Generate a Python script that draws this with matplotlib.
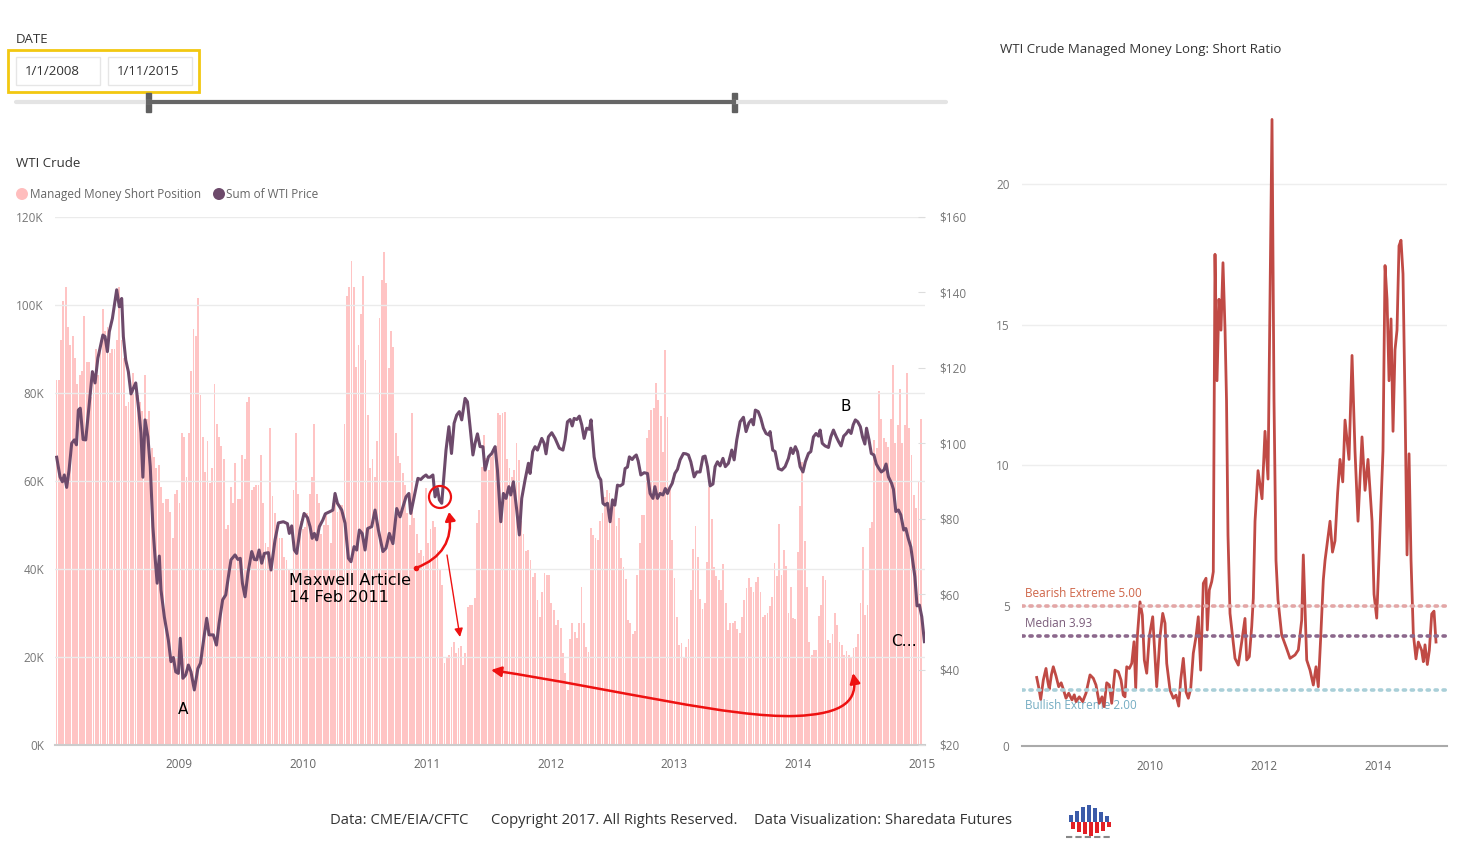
import numpy as np
import matplotlib
matplotlib.use("Agg")
import matplotlib.pyplot as plt
from matplotlib.patches import Rectangle, Circle, FancyArrowPatch
from matplotlib.path import Path

plt.rcParams['font.family'] = ['Open Sans', 'DejaVu Sans']

# weekly managed money short position (thousands), 2008-01 .. 2014-12
short_2008 = [83, 83, 92, 101, 104, 95, 91, 93, 88, 82, 84, 85, 97.5, 87, 87, 79, 84, 90, 84, 92,
              99, 94, 95, 89, 90, 90, 92, 104, 92, 88, 77, 78, 80, 84.5, 81, 79.5, 78, 76, 84, 74,
              76, 67.5, 65.5, 63, 63.6, 58.7, 55, 56, 56, 53, 47, 57, 58]
short_2009 = [55, 71, 70, 61, 71, 85, 94.5, 93, 101.5, 79.5, 70, 62, 69, 59.5, 63, 82, 73, 70, 68, 65,
              49, 50, 58.6, 55, 64, 56, 56, 66, 65, 78, 79, 58, 58.7, 59, 59, 66, 55, 46, 45, 72,
              56.6, 52.7, 50, 47, 47, 42.7, 42, 40, 39, 58]
short_2010 = [71, 57, 51, 49, 49.6, 52.7, 57, 61, 73, 57, 55, 48, 50, 52.7, 50, 46, 55, 55, 53, 54.5,
              54.5, 73, 102, 104, 110, 104, 86, 91, 98, 106.6, 87.5, 75, 63, 65, 61, 69, 97, 105.7,
              112, 105, 85.7, 94, 90.5, 71, 65.7, 64, 61.8, 59, 52.7, 50, 75.5, 51.6, 48, 43.6,
              44.3, 43, 58.4, 46, 49, 51, 49.6, 44.3, 39.8, 36.4, 18.6, 20, 20.4, 22.3, 23.4, 20.9,
              22, 22.5, 18.2, 21, 31.4, 31.8, 31.8, 33.4, 50.5, 53.4, 63.2, 70.4, 65.2, 62.5, 65.5,
              66.3, 68, 75.4, 75, 75.5, 75.7, 65, 63, 61, 62.5, 68.6, 64.8, 51, 48, 44]
short_2012 = [44.3, 42, 38.2, 39, 33, 29, 34.8, 39, 38.6, 38.6, 32.2, 30.7, 27.3, 28.4, 26.6, 21, 16.3,
              12.5, 24, 27.7, 25.7, 24.3, 27.7, 35.9, 27.7, 22.3, 21.1, 49.3, 47.7, 47, 46.7, 51,
              52.7, 56.4, 58, 57.2, 55.7, 55, 49.8, 51.6, 42.5, 40.5, 37.8, 28.4, 27.7, 25.2, 26,
              38.6, 45.8, 52.2, 52.2, 69.8, 71.6, 76.1, 76.5, 82.2, 78.4, 74.8, 66.6, 89.8, 74.5,
              58.6, 46.6, 38, 29, 22.7, 23.1, 19.8, 22.3, 24, 35.2, 44.5, 49.8, 42.8, 33.2, 30.9,
              32.3, 41.6, 58.6, 51.4, 40.5, 38.4, 37.5, 35.2, 41.1, 32.3, 26.1, 27.7, 27.7, 28.2,
              26.3, 25.4, 29, 33, 35.7, 38, 36, 34.8, 37, 38.2, 34.8, 29, 29.5, 30]
short_2014 = [31.6, 33.6, 41.4, 38.4, 50.2, 38.6, 44.3, 40.7, 30, 36, 28.9, 28.6, 43.9, 54.3, 64.3,
              46.4, 35.9, 23.4, 20.5, 21.6, 21.6, 29.3, 31.8, 38.4, 37.5, 23.9, 23.2, 25.2, 30, 27.3,
              23.4, 22.7, 20.5, 21.4, 20.5, 19.8, 22, 22.3, 25.2, 32.3, 45, 29.5, 31.8, 49.3, 50.7,
              69.3, 67.5, 80.5, 74, 69.8, 68.9, 67.8, 74, 86.4, 68.6, 72.7, 80.9, 68.6, 72.7, 84.5,
              72, 65.9, 56.8, 53.9, 59.8, 74]

# WTI price: (week since 2008-01-01, $)
price_points = [
    (0.6, 96.3), (2.0, 91.1), (3.0, 89.8), (3.8, 91.6), (4.8, 88.3), (5.8, 92.9), (6.9, 100),
    (8.0, 100.9), (8.9, 99.6), (9.7, 108.8), (10.5, 109.3), (11.7, 101), (12.8, 100.9), (13.9, 108),
    (15.6, 119), (16.7, 116), (17.9, 122.6), (20.0, 128.7), (20.9, 128.3), (21.9, 124.3),
    (22.7, 129.6), (24.0, 133.1), (25.8, 140.7), (26.9, 136.2), (27.9, 138.4), (28.6, 128.3),
    (29.6, 122.1), (30.7, 119), (31.8, 113.1), (32.8, 114.6), (33.8, 116), (35.2, 108),
    (36.0, 102.7), (36.8, 91), (37.7, 106.2), (38.9, 101.7), (39.9, 93.8), (41.0, 77.9),
    (41.9, 69.9), (42.8, 62.9), (43.7, 70.1), (44.4, 61.1), (45.8, 54), (47.5, 47.8), (48.6, 42.1),
    (49.6, 43.2), (50.6, 39.4), (51.7, 39), (52.5, 48.3), (53.6, 37.7), (54.8, 38.6), (55.9, 41.2),
    (57.0, 39.4), (58.4, 34.6), (59.9, 40.3), (61.0, 41.7), (62.4, 48.3), (63.6, 53.6), (64.6, 49.2),
    (66.4, 49.2), (67.7, 46.5), (68.8, 52.3), (70.3, 58.5), (71.6, 59.8), (72.7, 64.6), (73.8, 69.1),
    (75.5, 70.4), (76.7, 69.2), (77.7, 69.5), (78.6, 62.9), (79.7, 59.3), (80.9, 65.5), (82.5, 71.3),
    (83.6, 69.2), (84.6, 69.1), (85.6, 71.7), (86.7, 68.2), (87.8, 70.8), (89.5, 71), (90.6, 66.4),
    (92.3, 74.4), (93.7, 78.9), (95.8, 79.2), (97.5, 78.7), (98.3, 76.1), (99.3, 78.1),
    (100.4, 71.7), (101.4, 70.8), (102.8, 77), (104.5, 81.4), (105.9, 80.3), (107.0, 77.9),
    (107.9, 74.8), (108.8, 76.1), (109.8, 74.4), (110.9, 77.9), (112.4, 79.7), (113.4, 81.3),
    (115.4, 81.9), (116.6, 82.3), (117.5, 86.7), (118.5, 84.1), (120.3, 82.3), (121.7, 78.8),
    (123.1, 69.5), (124.2, 68.6), (125.5, 72.6), (126.6, 71.7), (127.7, 77), (128.9, 76.1),
    (130.1, 71.7), (131.2, 77.4), (132.9, 77.9), (134.3, 82.3), (135.7, 77), (137.6, 71.3),
    (138.9, 72.2), (140.3, 76.1), (141.8, 73.4), (143.4, 82.7), (144.8, 80.5), (146.0, 83.1),
    (147.3, 85.8), (148.5, 86.7), (149.3, 81.4), (150.7, 85.8), (152.3, 90.7), (153.5, 90.4),
    (154.6, 91.1), (155.7, 91.6), (156.5, 91), (157.4, 91), (158.6, 91.6), (159.5, 85.8),
    (160.5, 88), (161.3, 85), (162.3, 84.1), (163.3, 92), (164.1, 98.2), (165.3, 104.4),
    (166.4, 97.3), (167.5, 105.3), (168.6, 107.5), (169.7, 108.4), (170.7, 106.2), (172.1, 111.9),
    (173.1, 111), (174.2, 104.4), (175.4, 96.9), (176.3, 100), (177.3, 102.5), (178.4, 99.1),
    (179.6, 99.1), (180.5, 92.9), (181.9, 96.4), (183.3, 97.3), (184.7, 99.1), (185.7, 92.9),
    (187.1, 79.2), (188.2, 86.7), (189.3, 85.4), (190.5, 88.5), (191.3, 86.3), (192.4, 89.8),
    (193.8, 82.3), (194.9, 75.7), (195.9, 85.4), (197.3, 90.3), (198.7, 94.7), (199.4, 92),
    (200.5, 97.8), (201.5, 99.1), (202.5, 98.2), (204.3, 101.3), (205.3, 100), (206.1, 97.2),
    (207.1, 101.7), (208.5, 102.8), (209.9, 101.3), (211.7, 98.7), (213.2, 98.2), (214.1, 100.9),
    (215.1, 105.7), (216.2, 106.3), (217.1, 104.6), (217.9, 106.6), (219.0, 106.3), (220.1, 107.2),
    (221.1, 104.9), (222.1, 101.3), (223.2, 104), (224.3, 103.7), (225.0, 106.2), (226.3, 96.4),
    (227.4, 92.9), (228.3, 91.1), (229.1, 90.3), (230.0, 84.1), (230.9, 83.6), (231.9, 84.1),
    (233.0, 79.2), (234.0, 85), (235.0, 83.6), (236.1, 88.9), (237.2, 88.7), (238.4, 89.2),
    (239.3, 93.3), (240.3, 93.7), (241.1, 96.4), (242.3, 95.7), (243.1, 96.4), (244.0, 96.9),
    (244.8, 95.3), (245.9, 91.6), (247.3, 92.2), (248.7, 92), (249.8, 86.7), (251.0, 85.4),
    (251.8, 88.5), (252.9, 85.4), (254.0, 86.7), (255.2, 86.3), (256.2, 88), (257.1, 86.7),
    (257.9, 88), (259.1, 89.4), (260.2, 92), (261.3, 93.1), (262.4, 95.6), (263.8, 97.3),
    (264.9, 97.2), (265.9, 96.9), (266.9, 95.1), (268.3, 91.1), (269.4, 92.4), (270.8, 92.4),
    (272.0, 96.4), (272.9, 96.6), (273.9, 93.8), (275.0, 88.7), (276.2, 89.2), (277.1, 93.8),
    (278.1, 95.1), (279.2, 94), (280.4, 96), (281.4, 93.8), (282.7, 94.7), (284.1, 98.2),
    (285.1, 95.6), (286.2, 100.9), (287.6, 105.7), (289.0, 106.9), (290.1, 103.1), (291.3, 105.4),
    (292.4, 106.3), (293.2, 104.9), (294.0, 108.8), (295.2, 108.4), (296.3, 106.6), (297.4, 104),
    (298.5, 102.6), (299.7, 102.2), (300.2, 103.1), (301.3, 98.2), (302.3, 97.8), (303.7, 93.3),
    (305.1, 92.9), (306.5, 93.8), (307.9, 96), (308.9, 98.7), (309.8, 97.3), (310.8, 99.1),
    (311.7, 97.8), (312.8, 93.8), (314.0, 92.4), (315.0, 95.1), (316.3, 97.3), (317.3, 97.8),
    (318.4, 101.7), (319.5, 102.6), (320.5, 101.9), (321.2, 103.5), (322.1, 100), (323.3, 99.3),
    (324.7, 98.9), (325.7, 101.7), (326.8, 103.5), (328.0, 101.7), (329.0, 100.4), (330.0, 99.3),
    (331.1, 101.9), (332.2, 102.6), (333.2, 103.5), (334.2, 102.6), (335.1, 104.9), (336.0, 106.2),
    (337.0, 105.7), (338.1, 104.4), (339.0, 101.7), (340.0, 99.8), (340.7, 104), (341.7, 101),
    (342.7, 97.3), (343.8, 96.9), (344.8, 94.5), (345.9, 93.3), (346.9, 92.4), (348.0, 92.9),
    (348.9, 94.5), (349.9, 91.1), (351.2, 89.4), (352.0, 87.8), (353.0, 81.9), (354.1, 82.3),
    (355.1, 81), (356.3, 77), (357.2, 77.4), (358.2, 74.8), (359.3, 72.5), (360.2, 68.2),
    (361.0, 64.6), (361.9, 56.9), (362.9, 57.1), (363.9, 54), (365.0, 47.4)]

# managed money long:short ratio: (decimal year, ratio)
ratio_points = [
    (2008.021, 2.44), (2008.060, 2.05), (2008.091, 1.66), (2008.137, 2.35), (2008.184, 2.76),
    (2008.215, 2.30), (2008.242, 2.02), (2008.280, 2.55), (2008.312, 2.82), (2008.360, 2.49),
    (2008.407, 2.11), (2008.450, 2.25), (2008.488, 2.02), (2008.535, 1.70), (2008.582, 1.88),
    (2008.640, 1.64), (2008.680, 1.82), (2008.711, 1.58), (2008.768, 1.75), (2008.828, 1.58),
    (2008.886, 1.88), (2008.920, 2.20), (2008.956, 2.53), (2009.014, 2.41), (2009.061, 2.17),
    (2009.119, 1.52), (2009.167, 1.75), (2009.202, 1.40), (2009.249, 2.25), (2009.295, 2.17),
    (2009.337, 1.52), (2009.395, 2.70), (2009.453, 2.64), (2009.500, 2.35), (2009.540, 1.81),
    (2009.570, 1.75), (2009.600, 2.82), (2009.646, 2.76), (2009.688, 2.94), (2009.728, 3.71),
    (2009.758, 2.05), (2009.786, 3.89), (2009.833, 5.13), (2009.874, 4.66), (2009.909, 3.06),
    (2009.951, 2.59), (2009.996, 3.89), (2010.056, 4.60), (2010.096, 3.18), (2010.126, 2.11),
    (2010.184, 3.89), (2010.232, 4.72), (2010.272, 4.37), (2010.302, 2.94), (2010.360, 1.99),
    (2010.418, 1.70), (2010.465, 1.81), (2010.512, 1.42), (2010.547, 2.35), (2010.593, 3.12),
    (2010.640, 1.93), (2010.681, 1.70), (2010.723, 2.05), (2010.768, 3.30), (2010.816, 3.89),
    (2010.856, 4.60), (2010.898, 2.70), (2010.944, 5.79), (2010.991, 5.97), (2011.014, 4.13),
    (2011.049, 5.55), (2011.091, 5.85), (2011.119, 6.20), (2011.149, 17.5), (2011.184, 13.0),
    (2011.219, 15.9), (2011.254, 14.8), (2011.289, 17.2), (2011.325, 14.8), (2011.351, 12.3),
    (2011.377, 7.5), (2011.412, 4.72), (2011.500, 3.12), (2011.558, 2.88), (2011.618, 3.71),
    (2011.675, 4.54), (2011.705, 3.06), (2011.751, 3.18), (2011.793, 4.25), (2011.821, 5.26),
    (2011.851, 8.0), (2011.904, 9.8), (2011.974, 8.8), (2012.026, 11.2), (2012.079, 9.5),
    (2012.114, 15.9), (2012.149, 22.3), (2012.184, 12.3), (2012.219, 6.6), (2012.254, 5.2),
    (2012.319, 3.95), (2012.400, 3.50), (2012.465, 3.12), (2012.553, 3.24), (2012.611, 3.42),
    (2012.670, 4.48), (2012.698, 6.8), (2012.758, 3.06), (2012.816, 2.70), (2012.874, 2.17),
    (2012.921, 2.82), (2012.961, 2.11), (2013.004, 3.89), (2013.049, 5.91), (2013.079, 6.6),
    (2013.167, 8.0), (2013.210, 6.9), (2013.254, 7.3), (2013.300, 9.0), (2013.342, 10.2),
    (2013.390, 9.4), (2013.430, 11.6), (2013.500, 10.2), (2013.553, 13.9), (2013.605, 10.5),
    (2013.658, 8.0), (2013.728, 11.0), (2013.781, 9.1), (2013.833, 10.2), (2013.904, 8.0),
    (2013.939, 5.4), (2013.986, 4.55), (2014.044, 7.7), (2014.096, 10.5), (2014.132, 17.1),
    (2014.167, 15.9), (2014.202, 13.0), (2014.237, 15.2), (2014.272, 11.2), (2014.307, 14.1),
    (2014.342, 14.8), (2014.377, 17.8), (2014.412, 18.0), (2014.447, 16.8), (2014.482, 12.3),
    (2014.518, 6.8), (2014.553, 10.4), (2014.588, 6.6), (2014.628, 4.0), (2014.675, 3.1),
    (2014.716, 3.7), (2014.775, 3.4), (2014.804, 3.0), (2014.833, 3.6), (2014.874, 2.9),
    (2014.909, 3.4), (2014.951, 4.7), (2014.991, 4.8), (2015.026, 3.7)]

ref_names = ["Bearish Extreme", "Median", "Bullish Extreme"]
ref_values = [5.00, 3.93, 2.00]
ref_colors = ["#E3A6A6", "#8C688C", "#A9CFD8"]
ref_text_colors = ["#CF6548", "#7A5C7A", "#74ACC2"]
ref_label_above = [True, True, False]

left_ticks = [0, 20, 40, 60, 80, 100, 120]
price_ticks = [20, 40, 60, 80, 100, 120, 140, 160]
year_ticks = [2009, 2010, 2011, 2012, 2013, 2014, 2015]
ratio_ticks = [0, 5, 10, 15, 20]
ratio_year_ticks = [2010, 2012, 2014]

logo_up = [7, 11, 15, 17, 14, 10, 6]
logo_down = [7, 10, 12, 14, 11, 9, 5]

W, H = 1467, 841
def fx(x):
    return x / W
def fy(y):
    return 1 - y / H

fig = plt.figure(figsize=(W / 100, H / 100), dpi=100)
fig.patch.set_facecolor("white")

# ---- left chart: bars + price line
short_vals = np.array(short_2008 + short_2009 + short_2010 + short_2012 + short_2014)
n = len(short_vals)
bar_x = 2008 + (np.arange(n) + 0.5) * 7.0 / n

ax = fig.add_axes([fx(55), fy(745), fx(925) - fx(55), fy(217) - fy(745)])
ax.set_xlim(2007.998, 2015.024)
ax.set_ylim(0, 120)
for v in left_ticks[1:]:
    ax.axhline(v, color="#EBEBEB", lw=1, zorder=3)
ax.bar(bar_x, short_vals, width=0.78 * 7.0 / n, color="#FFC4C4", zorder=2, linewidth=0)
ax.set_yticks(left_ticks)
ax.set_yticklabels([f"{v}K" for v in left_ticks])
ax.set_xticks(year_ticks)
ax.set_xticklabels([str(y) for y in year_ticks])
ax.tick_params(axis="y", length=0, pad=8, labelsize=8.5, labelcolor="#777777")
ax.tick_params(axis="x", length=0, pad=9.5, labelsize=8.5, labelcolor="#666666")
for s in ["top", "left", "right"]:
    ax.spines[s].set_visible(False)
ax.spines["bottom"].set_color("#CCCCCC")
ax.spines["bottom"].set_linewidth(1.5)

ax2 = ax.twinx()
ax2.set_ylim(20, 160)
pw, pv = zip(*price_points)
ax2.plot(2008 + np.array(pw) / 52.0, pv, color="#6D4A6B", lw=2.2, solid_joinstyle="round")
ax2.set_yticks(price_ticks)
ax2.set_yticklabels([f"${v}" for v in price_ticks])
ax2.tick_params(axis="y", direction="in", length=5, color="#DDDDDD", pad=10,
                labelsize=8.5, labelcolor="#777777")
for s in ax2.spines.values():
    s.set_visible(False)

# ---- right chart: long/short ratio
axr = fig.add_axes([fx(1022), fy(746), fx(1447) - fx(1022), fy(111) - fy(746)])
axr.set_xlim(2007.763, 2015.219)
axr.set_ylim(0, 22.6)
for v in ratio_ticks[1:]:
    axr.axhline(v, color="#EEEEEE", lw=1, zorder=0)
ry, rv = zip(*ratio_points)
axr.plot(ry, rv, color="#C04A45", lw=2, zorder=2)
for name, val, c, tc, above in zip(ref_names, ref_values, ref_colors, ref_text_colors,
                                   ref_label_above):
    axr.axhline(val, color=c, lw=2.6, ls=(0, (0.6, 1.6)), dash_capstyle="round", zorder=3)
    if above:
        axr.text(2007.82, val + 0.2, f"{name} {val:.2f}", color=tc, fontsize=8.5,
                 va="bottom", ha="left", zorder=1)
    else:
        axr.text(2007.82, val - 0.33, f"{name} {val:.2f}", color=tc, fontsize=8.5,
                 va="top", ha="left", zorder=1)
axr.set_yticks(ratio_ticks)
axr.set_yticklabels([str(v) for v in ratio_ticks])
axr.set_xticks(ratio_year_ticks)
axr.set_xticklabels([str(y) for y in ratio_year_ticks])
axr.tick_params(axis="y", length=0, pad=9, labelsize=8.5, labelcolor="#777777")
axr.tick_params(axis="x", length=0, pad=10, labelsize=8.5, labelcolor="#666666")
for s in ["top", "left", "right"]:
    axr.spines[s].set_visible(False)
axr.spines["bottom"].set_color("#AAAAAA")
axr.spines["bottom"].set_linewidth(1.5)

# ---- overlay in pixel coordinates for slicer, titles, annotations
ov = fig.add_axes([0, 0, 1, 1])
ov.set_xlim(0, W)
ov.set_ylim(H, 0)
ov.axis("off")
ov.patch.set_alpha(0)

ov.text(16, 39, "DATE", fontsize=9.5, color="#333333", va="center")
ov.add_patch(Rectangle((8, 50), 191, 42, fill=False, ec="#F2C811", lw=2))
ov.add_patch(Rectangle((16, 57), 84, 28, fill=False, ec="#E6E6E6", lw=1))
ov.add_patch(Rectangle((108, 57), 84, 28, fill=False, ec="#E6E6E6", lw=1))
ov.text(25, 71, "1/1/2008", fontsize=9.5, color="#333333", va="center")
ov.text(117, 71, "1/11/2015", fontsize=9.5, color="#333333", va="center")
ov.plot([16, 946], [102, 102], color="#E4E4E4", lw=3, solid_capstyle="round")
ov.plot([148, 734], [102, 102], color="#666666", lw=3)
ov.add_patch(Rectangle((145.5, 93), 5, 19, color="#606060"))
ov.add_patch(Rectangle((731.5, 93), 5, 19, color="#606060"))

ov.text(16, 163, "WTI Crude", fontsize=9.5, color="#333333", va="center")
ov.add_patch(Circle((22, 194), 6, color="#FFBDBD", lw=0))
ov.text(30, 194, "Managed Money Short Position", fontsize=8.5, color="#666666", va="center")
ov.add_patch(Circle((219, 194), 6, color="#6D4A6B", lw=0))
ov.text(226, 194, "Sum of WTI Price", fontsize=8.5, color="#666666", va="center")

ov.text(1000, 49, "WTI Crude Managed Money Long: Short Ratio", fontsize=9.5,
        color="#333333", va="center")

# annotations
ann = dict(family="DejaVu Sans", color="black")
ov.text(289, 589, "Maxwell Article\n14 Feb 2011", fontsize=11.5, va="center", ha="left",
        linespacing=1.12, **ann)
ov.text(183, 709, "A", fontsize=11, ha="center", va="center", **ann)
ov.text(846, 406, "B", fontsize=11, ha="center", va="center", **ann)
ov.text(904, 642, "C…", fontsize=11, ha="center", va="center", **ann)

ov.add_patch(Circle((440, 497), 11, fill=False, ec="#EE1111", lw=1.6))
ov.plot([416], [568], "o", color="#EE1111", ms=3)
ov.add_patch(FancyArrowPatch((416, 568), (449, 512), connectionstyle="arc3,rad=0.4",
                             arrowstyle="-|>,head_length=5,head_width=3", color="#EE1111",
                             lw=1.8, shrinkA=0, shrinkB=0))
ov.add_patch(FancyArrowPatch((447, 555), (460, 637), arrowstyle="-|>,head_length=5,head_width=2.5",
                             color="#EE1111", lw=1, shrinkA=0, shrinkB=0))
verts = [(491, 670), (620, 690), (730, 718), (795, 716), (845, 714), (858, 700), (853, 673)]
codes = [Path.MOVETO] + [Path.CURVE4] * 6
ov.add_patch(FancyArrowPatch(path=Path(verts, codes), arrowstyle="<|-|>,head_length=6,head_width=3",
                             color="#EE1111", lw=1.8))

# footer
foot = dict(fontsize=10.6, color="#333333", va="center", ha="left")
ov.text(330, 821, "Data: CME/EIA/CFTC", **foot)
ov.text(491, 821, "Copyright 2017. All Rights Reserved.", **foot)
ov.text(754, 821, "Data Visualization: Sharedata Futures", **foot)

# logo
for i, (u, d) in enumerate(zip(logo_up, logo_down)):
    x0 = 1069 + i * 6
    ov.add_patch(Rectangle((x0, 822 - u), 4, u, color="#3B5BA9", lw=0))
    ov.add_patch(Rectangle((x0 + 2, 822), 3.5, d, color="#E21F26", lw=0))
ov.plot([1066, 1112], [837, 837], color="#888888", lw=1.5, ls=(0, (3, 1.5)))

fig.savefig("out.png", dpi=100)
